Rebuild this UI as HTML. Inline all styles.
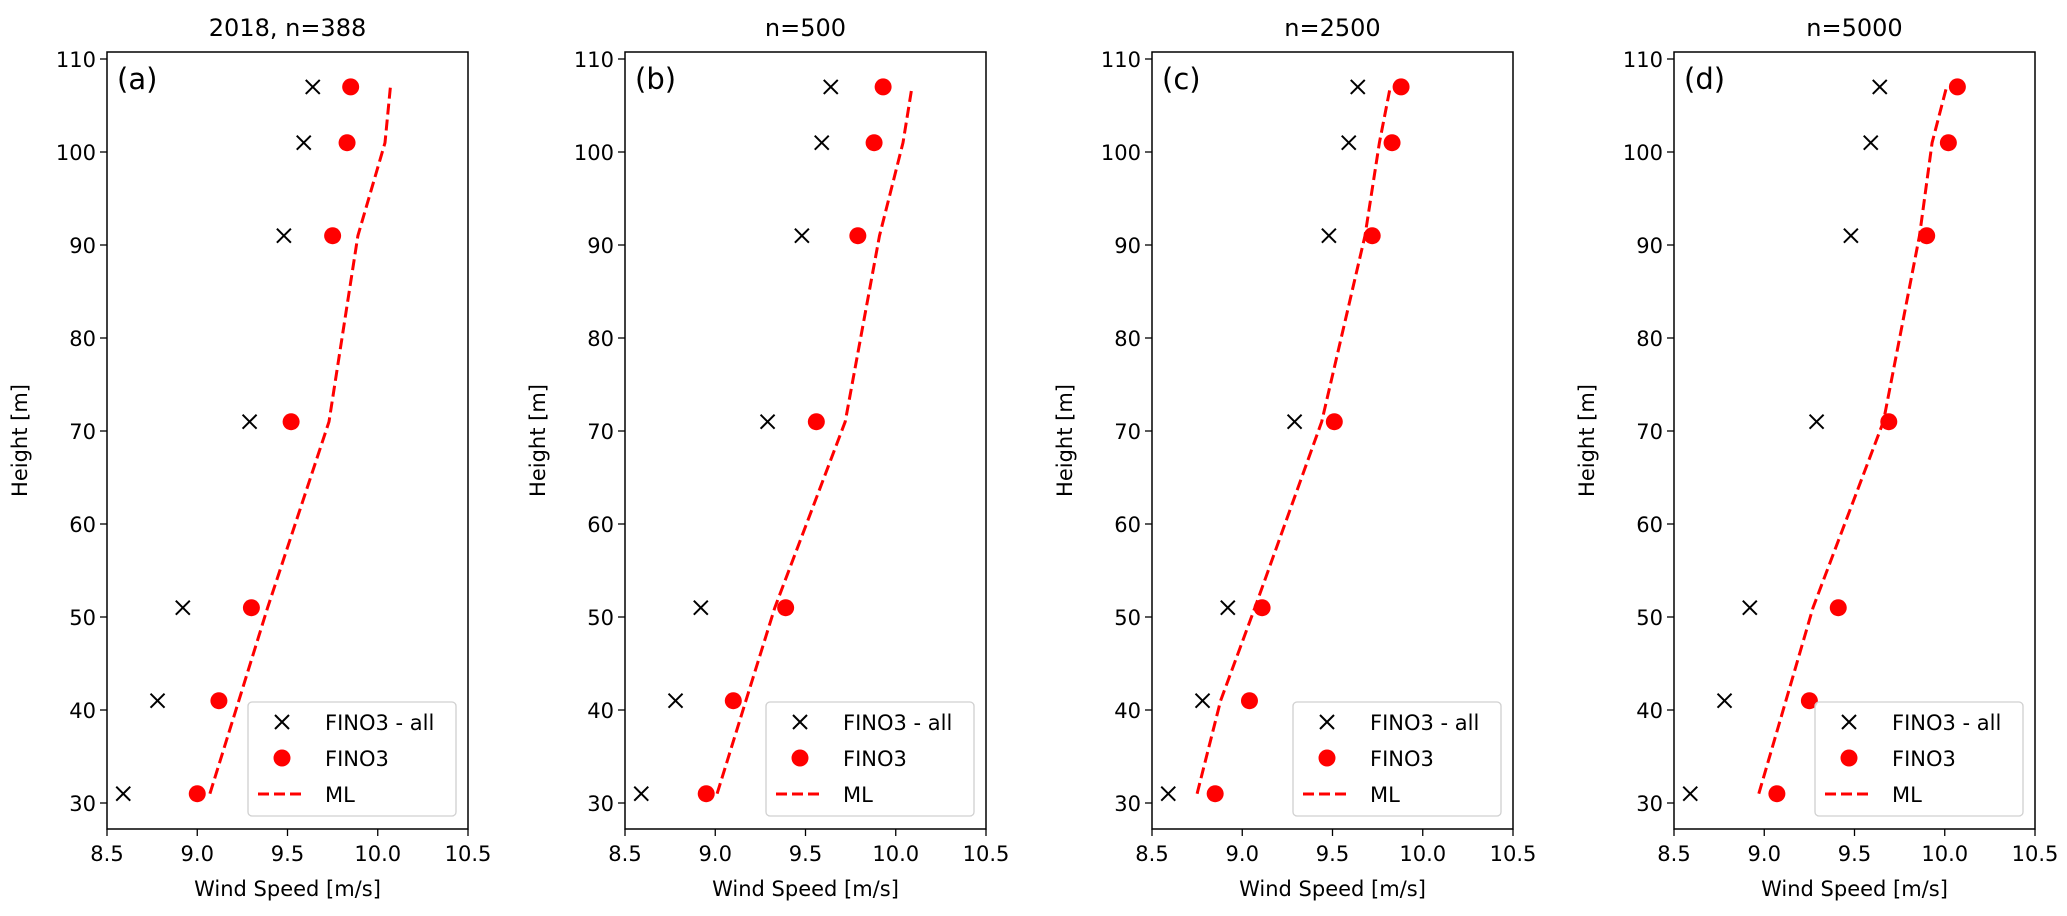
<!DOCTYPE html>
<html><head><meta charset="utf-8"><style>
html,body{margin:0;padding:0;background:#fff;}
svg{display:block;font-family:"DejaVu Sans","Liberation Sans",sans-serif;}
</style></head><body>
<svg id="fig" width="2067" height="916" viewBox="0 0 2067 916"></svg>
<script>
const heights = [31, 41, 51, 71, 91, 101, 107];
const finoAll = [8.59, 8.78, 8.92, 9.29, 9.48, 9.59, 9.64];
const finoA = [9.00, 9.12, 9.30, 9.52, 9.75, 9.83, 9.85];
const mlA = [9.07, 9.23, 9.39, 9.73, 9.89, 10.04, 10.07];
const finoB = [8.95, 9.10, 9.39, 9.56, 9.79, 9.88, 9.93];
const mlB = [9.01, 9.17, 9.33, 9.72, 9.91, 10.04, 10.09];
const finoC = [8.85, 9.04, 9.11, 9.51, 9.72, 9.83, 9.88];
const mlC = [8.75, 8.88, 9.07, 9.44, 9.68, 9.76, 9.82];
const finoD = [9.07, 9.25, 9.41, 9.69, 9.90, 10.02, 10.07];
const mlD = [8.97, 9.12, 9.27, 9.66, 9.86, 9.93, 10.01];
const titles = ["2018, n=388", "n=500", "n=2500", "n=5000"];
const panelLabels = ["(a)", "(b)", "(c)", "(d)"];
const xTicks = [8.5, 9.0, 9.5, 10.0, 10.5];
const xTickLabels = ["8.5", "9.0", "9.5", "10.0", "10.5"];
const yTicks = [30, 40, 50, 60, 70, 80, 90, 100, 110];
const panelFino = [finoA, finoB, finoC, finoD];
const panelMl = [mlA, mlB, mlC, mlD];

const NS = "http://www.w3.org/2000/svg";
const svg = document.getElementById("fig");
const lefts = [107, 625, 1152, 1674];
const W = 361, TOP = 52, BOT = 829;
function mk(tag, attrs, parent, text) {
  const e = document.createElementNS(NS, tag);
  for (const k in attrs) e.setAttribute(k, attrs[k]);
  if (text !== undefined) e.textContent = text;
  parent.appendChild(e);
  return e;
}
function yScale(v) { return 803 + (v - 30) * (59 - 803) / 80; }

for (let p = 0; p < 4; p++) {
  const L = lefts[p];
  const xScale = v => L + (v - 8.5) * W / 2;
  const g = mk("g", {}, svg);
  
  

  const t = mk("text", {x: L + W / 2, y: 36, "text-anchor": "middle", "font-size": 24, fill: "#000"}, g, titles[p]);
  
  

  for (let i = 0; i < xTicks.length; i++) {
    const x = xScale(xTicks[i]);
    mk("line", {x1: x, x2: x, y1: BOT, y2: BOT + 7, stroke: "#000", "stroke-width": 1.3}, g);
    const tl = mk("text", {x: x, y: BOT + 32, "text-anchor": "middle", "font-size": 21, fill: "#000"}, g, xTickLabels[i]);
    
    
  }
  for (const v of yTicks) {
    const y = yScale(v);
    mk("line", {x1: L - 7, x2: L, y1: y, y2: y, stroke: "#000", "stroke-width": 1.3}, g);
    const tl = mk("text", {x: L - 11, y: y + 8, "text-anchor": "end", "font-size": 21, fill: "#000"}, g, String(v));
    
    
  }
  const xl = mk("text", {x: L + W / 2, y: 896, "text-anchor": "middle", "font-size": 21, fill: "#000"}, g, "Wind Speed [m/s]");
  
  
  const yx = L - 80, yy = (TOP + BOT) / 2;
  const yl = mk("text", {x: yx, y: yy, "text-anchor": "middle", "font-size": 21, fill: "#000", transform: `rotate(-90 ${yx} ${yy})`}, g, "Height [m]");
  
  

  const pts = heights.map((h, i) => xScale(panelMl[p][i]).toFixed(1) + "," + yScale(h).toFixed(1)).join(" ");
  const ml = mk("polyline", {points: pts, fill: "none", stroke: "#ff0000", "stroke-width": 3, "stroke-dasharray": "11,5"}, g);
  
  

  for (let i = 0; i < heights.length; i++) {
    const x = xScale(finoAll[i]), y = yScale(heights[i]), s = 7;
    const c = mk("path", {d: `M${x - s},${y - s}L${x + s},${y + s}M${x - s},${y + s}L${x + s},${y - s}`, stroke: "#000", "stroke-width": 2}, g);
    
    
  }
  for (let i = 0; i < heights.length; i++) {
    const c = mk("circle", {cx: xScale(panelFino[p][i]), cy: yScale(heights[i]), r: 8.5, fill: "#ff0000"}, g);
    
    
  }

  const pl = mk("text", {x: L + 10, y: 89, "font-size": 29, fill: "#000"}, g, panelLabels[p]);
  
  

  const lg = mk("g", {}, g);
  
  
  const lx = L + 141, ly = 702;
  mk("rect", {x: lx, y: ly, width: 208, height: 114, rx: 4, fill: "#fff", "fill-opacity": 0.8, stroke: "#d0d0d0", "stroke-width": 1.3}, lg);
  const mx = lx + 34, tx = lx + 77;
  const r1 = ly + 20, r2 = ly + 56, r3 = ly + 92;
  mk("path", {d: `M${mx - 7},${r1 - 7}L${mx + 7},${r1 + 7}M${mx - 7},${r1 + 7}L${mx + 7},${r1 - 7}`, stroke: "#000", "stroke-width": 2}, lg);
  const e1 = mk("text", {x: tx, y: r1 + 8, "font-size": 21, fill: "#000"}, lg, "FINO3 - all");
  
  
  mk("circle", {cx: mx, cy: r2, r: 8.5, fill: "#ff0000"}, lg);
  const e2 = mk("text", {x: tx, y: r2 + 8, "font-size": 21, fill: "#000"}, lg, "FINO3");
  
  
  mk("line", {x1: mx - 24, x2: mx + 24, y1: r3, y2: r3, stroke: "#ff0000", "stroke-width": 3, "stroke-dasharray": "11,5"}, lg);
  const e3 = mk("text", {x: tx, y: r3 + 8, "font-size": 21, fill: "#000"}, lg, "ML");
  
  

  const fr = mk("rect", {x: L, y: TOP, width: W, height: BOT - TOP, fill: "none", stroke: "#000", "stroke-width": 1.5}, g);
  
  
}
</script>
</body></html>
